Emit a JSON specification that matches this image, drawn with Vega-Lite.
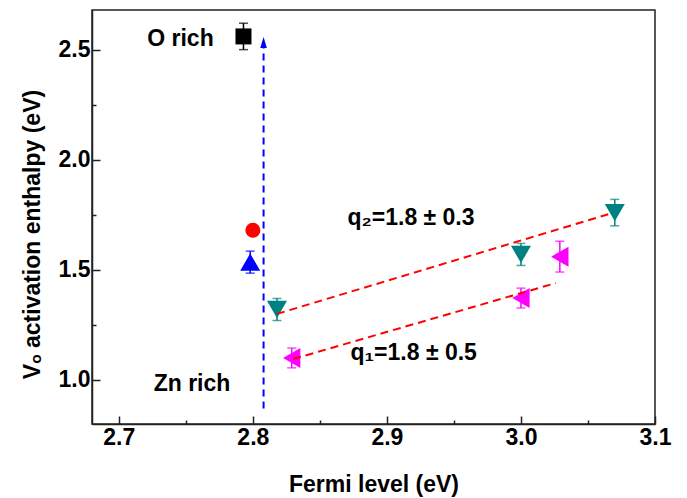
{
  "$schema": "https://vega.github.io/schema/vega-lite/v6.json",
  "width": 563,
  "height": 414,
  "autosize": "none",
  "padding": {"left": 92, "top": 10, "right": 32, "bottom": 74},
  "background": "white",
  "config": {
    "font": "Liberation Sans",
    "view": {"stroke": "#222222", "strokeWidth": 1.5},
    "axis": {
      "grid": false,
      "domainColor": "#222222",
      "domainWidth": 1.5,
      "tickColor": "#222222",
      "tickWidth": 1.5,
      "labelFont": "Liberation Sans",
      "labelFontSize": 23,
      "labelFontWeight": "bold",
      "labelColor": "#000000",
      "titleFont": "Liberation Sans",
      "titleFontSize": 23,
      "titleFontWeight": "bold",
      "titleColor": "#000000"
    }
  },
  "datasets": {
    "pts": [
      {"s": "sq", "x": 2.793, "y": 2.56, "lo": 2.50, "hi": 2.62},
      {"s": "circ", "x": 2.800, "y": 1.68},
      {"s": "up", "x": 2.798, "y": 1.535, "lo": 1.485, "hi": 1.585},
      {"s": "down", "x": 2.818, "y": 1.32, "lo": 1.27, "hi": 1.37},
      {"s": "down", "x": 3.000, "y": 1.57, "lo": 1.52, "hi": 1.62},
      {"s": "down", "x": 3.070, "y": 1.76, "lo": 1.70, "hi": 1.82},
      {"s": "left", "x": 2.829, "y": 1.10, "lo": 1.055, "hi": 1.145},
      {"s": "left", "x": 3.000, "y": 1.372, "lo": 1.327, "hi": 1.417},
      {"s": "left", "x": 3.029, "y": 1.56, "lo": 1.49, "hi": 1.63}
    ],
    "fits": [
      {"g": "q2", "x": 2.818, "y": 1.30},
      {"g": "q2", "x": 3.068, "y": 1.758},
      {"g": "q1", "x": 2.830, "y": 1.095},
      {"g": "q1", "x": 3.026, "y": 1.44}
    ],
    "arrow": [
      {"x": 2.808, "y": 0.87},
      {"x": 2.808, "y": 2.53}
    ],
    "head": [
      {"x": 2.808, "y": 2.532}
    ],
    "labels": [
      {"x": 2.746, "y": 2.547, "t": "O rich"},
      {"x": 2.7546, "y": 0.982, "t": "Zn rich"},
      {"x": 2.918, "y": 1.734, "t": "q₂=1.8 ± 0.3"},
      {"x": 2.920, "y": 1.124, "t": "q₁=1.8 ± 0.5"}
    ]
  },
  "encoding": {
    "x": {
      "field": "x",
      "type": "quantitative",
      "scale": {"domain": [2.68, 3.1], "nice": false, "zero": false},
      "axis": {
        "title": "Fermi level (eV)",
        "values": [2.7, 2.75, 2.8, 2.85, 2.9, 2.95, 3.0, 3.05, 3.1],
        "labelExpr": "abs(datum.value*10 - round(datum.value*10)) > 0.01 ? '' : format(datum.value, '.1f')",
        "tickSize": {"condition": {"test": "abs(datum.value*10 - round(datum.value*10)) > 0.01", "value": -4}, "value": -8},
        "labelPadding": 10,
        "labelBaseline": "top",
        "labelFlush": false,
        "titleY": 67,
        "titleBaseline": "alphabetic"
      }
    },
    "y": {
      "field": "y",
      "type": "quantitative",
      "scale": {"domain": [0.8, 2.68], "nice": false, "zero": false},
      "axis": {
        "title": "Vₒ activation enthalpy (eV)",
        "values": [1.0, 1.25, 1.5, 1.75, 2.0, 2.25, 2.5],
        "labelExpr": "abs(datum.value*2 - round(datum.value*2)) > 0.01 ? '' : format(datum.value, '.1f')",
        "tickSize": {"condition": {"test": "abs(datum.value*2 - round(datum.value*2)) > 0.01", "value": -4}, "value": -8},
        "labelPadding": 10,
        "labelFlush": false,
        "titleY": 224,
        "titlePadding": 14
      }
    }
  },
  "layer": [
    {
      "data": {"name": "pts"},
      "mark": {"type": "rule", "strokeWidth": 1.5},
      "encoding": {
        "y": {"field": "lo", "type": "quantitative"},
        "y2": {"field": "hi"},
        "color": {"field": "s", "type": "nominal", "scale": {"domain": ["sq", "circ", "up", "down", "left"], "range": ["#000000", "#ff0000", "#0000ff", "#008080", "#ff00ff"]}, "legend": null}
      }
    },
    {
      "data": {"name": "pts"},
      "mark": {"type": "tick", "orient": "horizontal", "size": 9, "thickness": 1.5},
      "encoding": {
        "y": {"field": "lo", "type": "quantitative"},
        "color": {"field": "s", "type": "nominal", "legend": null}
      }
    },
    {
      "data": {"name": "pts"},
      "mark": {"type": "tick", "orient": "horizontal", "size": 9, "thickness": 1.5},
      "encoding": {
        "y": {"field": "hi", "type": "quantitative"},
        "color": {"field": "s", "type": "nominal", "legend": null}
      }
    },
    {
      "data": {"name": "pts"},
      "transform": [{"filter": "datum.s == 'sq'"}],
      "mark": {"type": "point", "shape": "square", "size": 256, "filled": true, "opacity": 1, "strokeWidth": 0, "color": "#000000"},
      "encoding": {}
    },
    {
      "data": {"name": "pts"},
      "transform": [{"filter": "datum.s == 'circ'"}],
      "mark": {"type": "point", "shape": "circle", "size": 227, "filled": true, "opacity": 1, "strokeWidth": 0, "color": "#ff0000"},
      "encoding": {}
    },
    {
      "data": {"name": "pts"},
      "transform": [{"filter": "datum.s == 'up'"}],
      "mark": {"type": "point", "shape": "triangle-up", "size": 400, "filled": true, "opacity": 1, "strokeWidth": 0, "color": "#0000ff"},
      "encoding": {}
    },
    {
      "data": {"name": "pts"},
      "transform": [{"filter": "datum.s == 'down'"}],
      "mark": {"type": "point", "shape": "triangle-down", "size": 400, "filled": true, "opacity": 1, "strokeWidth": 0, "color": "#008080"},
      "encoding": {}
    },
    {
      "data": {"name": "pts"},
      "transform": [{"filter": "datum.s == 'left'"}],
      "mark": {"type": "point", "shape": "triangle-left", "size": 400, "filled": true, "opacity": 1, "strokeWidth": 0, "color": "#ff00ff"},
      "encoding": {}
    },
    {
      "data": {"name": "arrow"},
      "mark": {"type": "line", "color": "#0000ff", "strokeWidth": 2, "strokeDash": [7, 5]},
      "encoding": {}
    },
    {
      "data": {"name": "head"},
      "mark": {"type": "point", "filled": true, "opacity": 1, "color": "#0000ff", "strokeWidth": 0, "shape": "M0,-1L0.6,1L-0.6,1Z", "size": 121},
      "encoding": {}
    },
    {
      "data": {"name": "fits"},
      "mark": {"type": "line", "color": "#ff0000", "strokeWidth": 2, "strokeDash": [8, 5]},
      "encoding": {"detail": {"field": "g"}}
    },
    {
      "data": {"name": "labels"},
      "mark": {"type": "text", "font": "Liberation Sans", "fontSize": 23, "fontWeight": "bold", "color": "#000000", "align": "center", "baseline": "middle"},
      "encoding": {"text": {"field": "t"}}
    }
  ]
}
